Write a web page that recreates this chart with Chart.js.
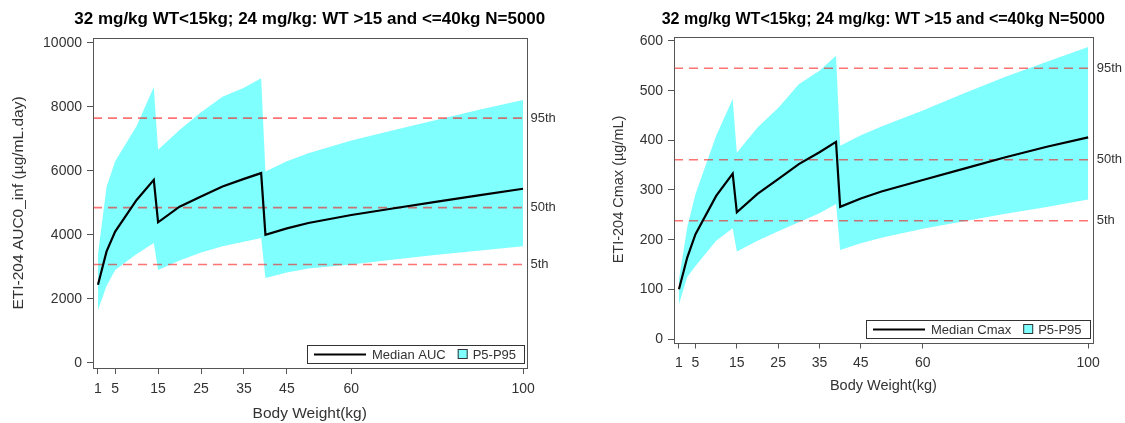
<!DOCTYPE html>
<html>
<head>
<meta charset="utf-8">
<script src="https://cdn.jsdelivr.net/npm/chart.js@4.4.1/dist/chart.umd.min.js"></script>
<style>
  html, body { margin: 0; padding: 0; background: #fff; }
  #wrap { position: relative; width: 1125px; height: 423px; }
  #aucChart { position: absolute; left: 0; top: 0; }
  #cmaxChart { position: absolute; left: 560px; top: 0; }
</style>
</head>
<body>
<div id="wrap">
  <canvas id="aucChart" width="560" height="423"></canvas>
  <canvas id="cmaxChart" width="565" height="423"></canvas>
</div>
<script>
// body weight grid (kg) shared by both panels
var weights = [1, 3, 5, 10, 14, 15, 20, 25, 30, 35, 39, 40, 45, 50, 60, 70, 80, 90, 100];
var weightTicks = [1, 5, 15, 25, 35, 45, 60, 100];

// AUC0_inf (ug/mL.day)
var aucMedian = [2440, 3480, 4100, 5090, 5720, 4390, 4880, 5200, 5510, 5750, 5930, 4000, 4200, 4370, 4620, 4830, 5040, 5240, 5440];
var aucP95 = [3400, 5500, 6300, 7400, 8620, 6660, 7280, 7830, 8320, 8600, 8900, 5980, 6300, 6550, 6950, 7280, 7600, 7920, 8220];
var aucP5 = [1650, 2400, 2900, 3400, 3740, 2900, 3200, 3450, 3640, 3780, 3900, 2650, 2820, 2950, 3070, 3230, 3380, 3510, 3640];
var aucRefs = [3070, 4850, 7650];
var aucTicks = [0, 2000, 4000, 6000, 8000, 10000];

// Cmax (ug/mL)
var cmaxMedian = [100, 164, 211, 288, 333, 255, 292, 322, 352, 376, 397, 266, 283, 297, 320, 343, 366, 387, 406];
var cmaxP95 = [120, 225, 292, 409, 483, 375, 426, 465, 513, 540, 570, 389, 410, 428, 460, 495, 528, 558, 588];
var cmaxP5 = [70, 125, 147, 198, 223, 176, 198, 217, 235, 253, 272, 179, 193, 204, 222, 237, 252, 266, 281];
var cmaxRefs = [238, 361, 545];
var cmaxTicks = [0, 100, 200, 300, 400, 500, 600];

var refLabels = ['5th', '50th', '95th'];
var titleText = '32 mg/kg WT<15kg; 24 mg/kg: WT >15 and <=40kg N=5000';

var FONT = "'Liberation Sans', Arial, Helvetica, sans-serif";
Chart.defaults.font.family = FONT;
Chart.defaults.color = '#333';

function pairs(ys) {
    return weights.map(function (w, i) { return { x: w, y: ys[i] }; });
}

function buildChart(id, o) {
    var refSets = o.refs.map(function (v) {
        return {
            label: 'ref',
            data: [{ x: o.xMin, y: v }, { x: o.xMax, y: v }],
            borderColor: 'rgba(255,0,0,0.55)',
            borderWidth: 1.6,
            borderDash: [9, 6],
            pointRadius: 0,
            fill: false,
            order: 1
        };
    });

    var datasets = [
        { label: o.medianLabel, data: pairs(o.median), borderColor: '#000', borderWidth: 2.2,
          pointRadius: 0, fill: false, tension: 0, order: 0 },
        { label: 'P5-P95', data: pairs(o.p95), borderWidth: 0, borderColor: 'rgba(0,0,0,0)',
          backgroundColor: '#80ffff', pointRadius: 0, fill: '+1', tension: 0, order: 2 },
        { label: 'p5', data: pairs(o.p5), borderWidth: 0, borderColor: 'rgba(0,0,0,0)',
          pointRadius: 0, fill: false, tension: 0, order: 2 }
    ].concat(refSets);

    // title over the plot, frame, percentile tags and the boxed legend
    var extras = {
        id: 'extras',
        afterDraw: function (chart) {
            var ctx = chart.ctx, a = chart.chartArea, y = chart.scales.y;
            ctx.save();
            ctx.font = 'bold ' + o.titleSize + 'px ' + FONT;
            ctx.fillStyle = '#000';
            ctx.textAlign = 'center';
            ctx.textBaseline = 'middle';
            ctx.fillText(titleText, (a.left + a.right) / 2, o.titleY);

            ctx.strokeStyle = '#555';
            ctx.lineWidth = 1;
            ctx.strokeRect(Math.round(a.left) + 0.5, Math.round(a.top) + 0.5,
                Math.round(a.right - a.left), Math.round(a.bottom - a.top));

            ctx.font = '13px ' + FONT;
            ctx.fillStyle = '#333';
            ctx.textAlign = 'left';
            o.refs.forEach(function (v, i) {
                ctx.fillText(refLabels[i], a.right + 4, y.getPixelForValue(v));
            });

            var w1 = ctx.measureText(o.medianLabel).width;
            var w2 = ctx.measureText('P5-P95').width;
            var lineLen = 52, h = 18;
            var boxW = 7 + lineLen + 6 + w1 + 12 + 10 + 5 + w2 + 8;
            var right = Math.round(a.right - 3), bottom = Math.round(a.bottom - 5);
            var left = Math.round(right - boxW), top = bottom - h, mid = top + h / 2;
            ctx.fillStyle = '#fff';
            ctx.fillRect(left, top, right - left, h);
            ctx.strokeStyle = '#333';
            ctx.strokeRect(left + 0.5, top + 0.5, right - left, h);

            var x = left + 7;
            ctx.strokeStyle = '#000';
            ctx.lineWidth = 2.2;
            ctx.beginPath();
            ctx.moveTo(x, mid + 0.5);
            ctx.lineTo(x + lineLen, mid + 0.5);
            ctx.stroke();
            x += lineLen + 6;
            ctx.fillStyle = '#333';
            ctx.fillText(o.medianLabel, x, mid + 1);
            x += w1 + 12;
            ctx.fillStyle = '#80ffff';
            ctx.fillRect(x, mid - 5, 10, 10);
            ctx.lineWidth = 1;
            ctx.strokeStyle = '#333';
            ctx.strokeRect(x + 0.5, mid - 4.5, 9, 9);
            x += 15;
            ctx.fillStyle = '#333';
            ctx.fillText('P5-P95', x, mid + 1);
            ctx.restore();
        }
    };

    return new Chart(document.getElementById(id), {
        type: 'line',
        data: { datasets: datasets },
        plugins: [extras],
        options: {
            responsive: false,
            animation: false,
            layout: { padding: o.padding },
            plugins: {
                legend: { display: false },
                tooltip: { enabled: false },
                title: { display: false }
            },
            scales: {
                x: {
                    type: 'linear',
                    min: o.xMin,
                    max: o.xMax,
                    afterBuildTicks: function (s) { s.ticks = weightTicks.map(function (v) { return { value: v }; }); },
                    afterFit: function (s) { s.height = o.xAxisHeight; },
                    grid: { drawOnChartArea: false, drawTicks: true, tickLength: 6, color: '#555' },
                    border: { display: false },
                    ticks: { font: { size: 14 }, padding: o.xTickPad, maxRotation: 0, autoSkip: false,
                             callback: function (v) { return String(v); } },
                    title: { display: true, text: 'Body Weight(kg)', font: { size: o.axisTitleSize }, padding: { top: 0, bottom: 0 } }
                },
                y: {
                    min: o.yMin,
                    max: o.yMax,
                    afterBuildTicks: function (s) { s.ticks = o.yTicks.map(function (v) { return { value: v }; }); },
                    afterFit: function (s) { s.width = o.yAxisWidth; },
                    grid: { drawOnChartArea: false, drawTicks: true, tickLength: 6, color: '#555' },
                    border: { display: false },
                    ticks: { font: { size: 14 }, padding: 5, callback: function (v) { return String(v); } },
                    title: { display: true, text: o.yTitle, font: { size: o.axisTitleSize }, padding: { top: o.yTitlePad, bottom: 0 } }
                }
            }
        }
    });
}

buildChart('aucChart', {
    median: aucMedian, p95: aucP95, p5: aucP5, refs: aucRefs, yTicks: aucTicks,
    medianLabel: 'Median AUC',
    yTitle: 'ETI-204 AUC0_inf (\u00b5g/mL.day)',
    xMin: -0.16, xMax: 100.8, yMin: -166, yMax: 10156,
    padding: { left: 0, right: 33.5, top: 38, bottom: 0 },
    titleSize: 17, titleY: 19, axisTitleSize: 15.5, xTickPad: 7,
    yAxisWidth: 93, xAxisHeight: 55, yTitlePad: 9
});

buildChart('cmaxChart', {
    median: cmaxMedian, p95: cmaxP95, p5: cmaxP5, refs: cmaxRefs, yTicks: cmaxTicks,
    medianLabel: 'Median Cmax',
    yTitle: 'ETI-204 Cmax (\u00b5g/mL)',
    xMin: -0.2, xMax: 101.1, yMin: -7, yMax: 609,
    padding: { left: 40, right: 32.3, top: 36.5, bottom: 28 },
    titleSize: 16, titleY: 19.5, axisTitleSize: 14.5, xTickPad: 6,
    yAxisWidth: 74, xAxisHeight: 52.5, yTitlePad: 10
});
</script>
</body>
</html>
